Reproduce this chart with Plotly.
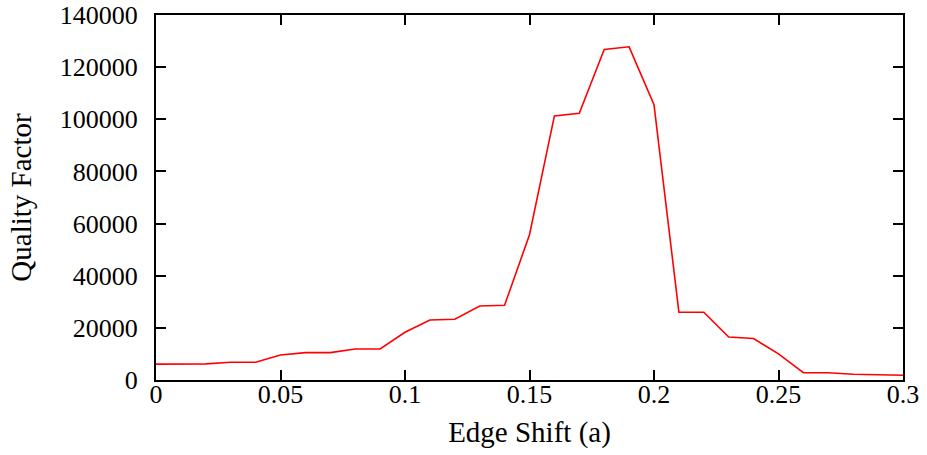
import plotly.graph_objects as go

edge_shift = [0.00, 0.01, 0.02, 0.03, 0.04, 0.05, 0.06, 0.07, 0.08, 0.09,
              0.10, 0.11, 0.12, 0.13, 0.14, 0.15, 0.16, 0.17, 0.18, 0.19,
              0.20, 0.21, 0.22, 0.23, 0.24, 0.25, 0.26, 0.27, 0.28, 0.29, 0.30]
quality_factor = [6100, 6100, 6200, 6800, 6800, 9600, 10500, 10500, 11900, 11900,
                  18300, 23000, 23300, 28400, 28700, 55700, 101300, 102300, 126800, 127800,
                  105600, 26000, 26000, 16500, 15900, 10000, 2800, 2800, 2200, 2000, 1800]

x_ticks = [0, 0.05, 0.1, 0.15, 0.2, 0.25, 0.3]
x_ticklabels = ["0", "0.05", "0.1", "0.15", "0.2", "0.25", "0.3"]
y_ticks = [0, 20000, 40000, 60000, 80000, 100000, 120000, 140000]
y_ticklabels = [str(v) for v in y_ticks]

font_family = "Liberation Serif, DejaVu Serif, serif"

fig = go.Figure()
fig.add_trace(go.Scatter(x=edge_shift, y=quality_factor, mode="lines",
                         line=dict(color="#ff0000", width=1.6), showlegend=False))

axis_common = dict(showline=True, linecolor="black", linewidth=2, mirror="allticks",
                   ticks="inside", ticklen=10, tickwidth=1.5, tickcolor="black",
                   showgrid=False, zeroline=False, automargin=False,
                   tickfont=dict(family=font_family, size=26, color="black"))

fig.update_xaxes(range=[0, 0.3], tickvals=x_ticks, ticktext=x_ticklabels,
                 ticklabelstandoff=-10,
                 title=dict(text="Edge Shift (a)", font=dict(family=font_family, size=29, color="black"),
                            standoff=13),
                 **axis_common)
fig.update_yaxes(range=[0, 140000], tickvals=y_ticks, ticktext=y_ticklabels,
                 ticklabelstandoff=11,
                 title=dict(text="Quality Factor", font=dict(family=font_family, size=29, color="black"),
                            standoff=20),
                 **axis_common)

fig.update_layout(width=927, height=455, margin=dict(l=156, r=24, t=15, b=75),
                  plot_bgcolor="white", paper_bgcolor="white")

fig.write_html("out.html")
